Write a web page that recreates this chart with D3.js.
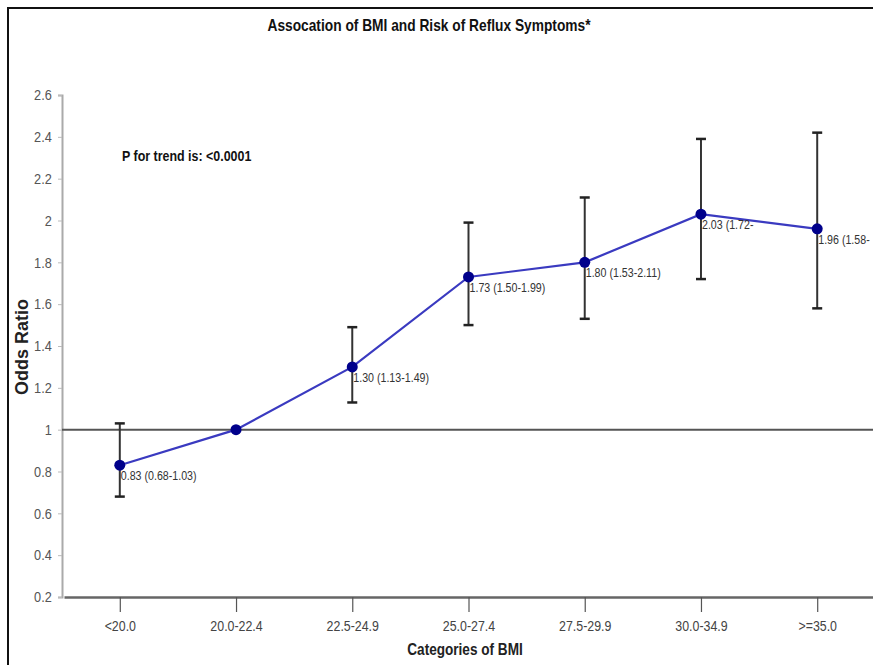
<!DOCTYPE html>
<html>
<head>
<meta charset="utf-8">
<script src="https://cdn.jsdelivr.net/npm/d3@7"></script>
<style>
  body { margin: 0; background: #fff; }
  svg { display: block; font-family: "Liberation Sans", Arial, sans-serif; }
</style>
</head>
<body>
<div id="chart"></div>
<script>
const categories = ["<20.0", "20.0-22.4", "22.5-24.9", "25.0-27.4", "27.5-29.9", "30.0-34.9", ">=35.0"];
const oddsRatio = [0.83, 1.00, 1.30, 1.73, 1.80, 2.03, 1.96];
const ciLow = [0.68, null, 1.13, 1.50, 1.53, 1.72, 1.58];
const ciHigh = [1.03, null, 1.49, 1.99, 2.11, 2.39, 2.42];
const pointLabels = ["0.83 (0.68-1.03)", "", "1.30 (1.13-1.49)", "1.73 (1.50-1.99)", "1.80 (1.53-2.11)", "2.03 (1.72-", "1.96 (1.58-"];
const yTicks = [0.2, 0.4, 0.6, 0.8, 1, 1.2, 1.4, 1.6, 1.8, 2, 2.2, 2.4, 2.6];

const W = 873, H = 665;
const plot = { left: 62, right: 873, top: 95, bottom: 597 };

const data = categories.map((c, i) => ({
    cat: c, or: oddsRatio[i], lo: ciLow[i], hi: ciHigh[i], label: pointLabels[i]
}));

const svg = d3.select("#chart").append("svg")
    .attr("width", W)
    .attr("height", H);

// condensed text: the original uses a narrow face, so squeeze horizontally
function narrowText(x, y, txt, size, sx, opts = {}) {
    const g = svg.append("g")
        .attr("transform", `translate(${x},${y}) scale(${sx},1)`);
    return g.append("text")
        .attr("text-anchor", opts.anchor || "start")
        .style("font-size", size + "px")
        .style("font-weight", opts.bold ? "bold" : "normal")
        .attr("fill", opts.fill || "#111")
        .text(txt);
}

// frame (left and top edges only)
svg.append("path")
    .attr("d", `M8,${H} L8,8 L${W},8`)
    .attr("fill", "none")
    .attr("stroke", "#111")
    .attr("stroke-width", 2);

const x = d3.scalePoint()
    .domain(categories)
    .range([plot.left + 2, plot.right])
    .padding(0.48);

const y = d3.scaleLinear()
    .domain([0.2, 2.6])
    .range([plot.bottom, plot.top]);

// y axis
const yAxis = svg.append("g")
    .attr("transform", `translate(${plot.left},0)`)
    .call(d3.axisLeft(y).tickValues(yTicks).tickSize(4).tickPadding(8).tickFormat(d3.format("")));
yAxis.select(".domain").attr("stroke", "#aaa").attr("stroke-width", 2);
yAxis.selectAll(".tick line").attr("stroke", "#bbb");
yAxis.selectAll(".tick text")
    .attr("transform", "scale(0.85,1)")
    .style("font-size", "15px")
    .attr("fill", "#555");

// x axis
const xAxis = svg.append("g")
    .attr("transform", `translate(0,${plot.bottom})`)
    .call(d3.axisBottom(x).tickSize(15).tickPadding(8).tickSizeOuter(0));
xAxis.select(".domain").attr("stroke", "#666").attr("stroke-width", 2.5);
xAxis.selectAll(".tick line").attr("stroke", "#555").attr("stroke-width", 1.2);
xAxis.selectAll(".tick text")
    .attr("transform", "scale(0.8,1)")
    .style("font-size", "15.5px")
    .attr("fill", "#444");

// reference line at OR = 1
svg.append("line")
    .attr("x1", plot.left)
    .attr("x2", plot.right)
    .attr("y1", y(1))
    .attr("y2", y(1))
    .attr("stroke", "#555")
    .attr("stroke-width", 2);

// error bars
const ci = data.filter(d => d.lo !== null);
svg.selectAll(".ci")
    .data(ci)
    .enter()
    .append("line")
    .attr("x1", d => x(d.cat))
    .attr("x2", d => x(d.cat))
    .attr("y1", d => y(d.lo))
    .attr("y2", d => y(d.hi))
    .attr("stroke", "#333")
    .attr("stroke-width", 2);

["lo", "hi"].forEach(k => {
    svg.selectAll(".cap-" + k)
        .data(ci)
        .enter()
        .append("line")
        .attr("x1", d => x(d.cat) - 5)
        .attr("x2", d => x(d.cat) + 5)
        .attr("y1", d => y(d[k]))
        .attr("y2", d => y(d[k]))
        .attr("stroke", "#222")
        .attr("stroke-width", 2.5);
});

// line
const line = d3.line()
    .x(d => x(d.cat))
    .y(d => y(d.or));

svg.append("path")
    .datum(data)
    .attr("d", line)
    .attr("fill", "none")
    .attr("stroke", "#3a3ac0")
    .attr("stroke-width", 2.2);

svg.selectAll(".pt")
    .data(data)
    .enter()
    .append("circle")
    .attr("cx", d => x(d.cat))
    .attr("cy", d => y(d.or))
    .attr("r", 5.5)
    .attr("fill", "#00008b");

// point labels
data.filter(d => d.label).forEach(d => {
    narrowText(x(d.cat) + 1, y(d.or) + 15, d.label, 13, 0.82, { fill: "#333" });
});

// titles
narrowText(429, 31, "Assocation of BMI and Risk of Reflux Symptoms*", 16, 0.86, { anchor: "middle", bold: true });
narrowText(122, 161, "P for trend is: <0.0001", 15, 0.83, { bold: true });
narrowText(465, 655, "Categories of BMI", 16, 0.85, { anchor: "middle", bold: true, fill: "#222" });

svg.append("text")
    .attr("transform", `translate(28,347) rotate(-90)`)
    .attr("text-anchor", "middle")
    .style("font-size", "18px")
    .style("font-weight", "bold")
    .attr("fill", "#222")
    .text("Odds Ratio");
</script>
</body>
</html>
